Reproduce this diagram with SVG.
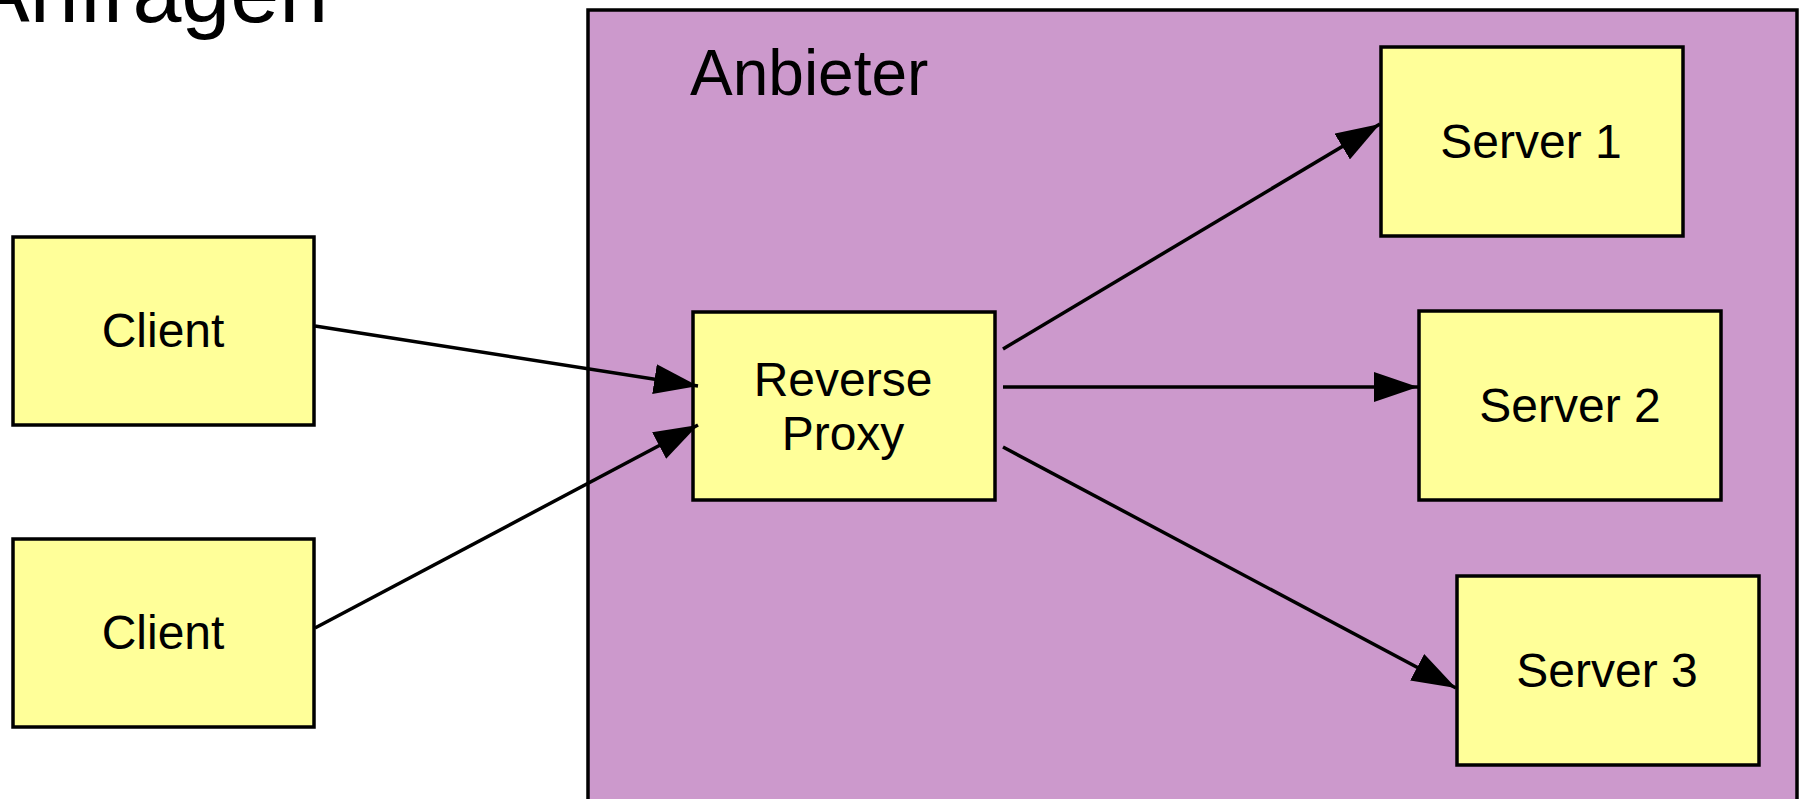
<svg xmlns="http://www.w3.org/2000/svg" width="1803" height="799" viewBox="0 0 1803 799">
<style>
.box{fill:#FFFF99;stroke:#000;stroke-width:3.5}
.lbl{font-family:"Liberation Sans",Arial,sans-serif;font-size:48px;fill:#000;text-anchor:middle}
.conn{stroke:#000;stroke-width:3.5;fill:none;marker-end:url(#arr)}
</style>
<defs>
<marker id="arr" markerUnits="userSpaceOnUse" markerWidth="44" markerHeight="30" refX="44" refY="15" orient="auto">
<path d="M0,0 L44,15 L0,30 z" fill="#000"/>
</marker>
</defs>
<rect width="1803" height="799" fill="#fff"/>
<text x="-29" y="22" font-family="Liberation Sans, Arial, sans-serif" font-size="88" fill="#000">Anfragen</text>
<g id="anbieter">
<rect x="588" y="10" width="1209" height="900" fill="#CC99CC" stroke="#000" stroke-width="3.5"/>
<text x="690" y="95" font-family="Liberation Sans, Arial, sans-serif" font-size="64" fill="#000">Anbieter</text>
</g>
<g id="client1"><rect class="box" x="13" y="237" width="301" height="188"/><text class="lbl" x="163" y="347">Client</text></g>
<g id="client2"><rect class="box" x="13" y="539" width="301" height="188"/><text class="lbl" x="163" y="649">Client</text></g>
<g id="proxy"><rect class="box" x="693" y="312" width="302" height="188"/><text class="lbl" x="843" y="396">Reverse</text><text class="lbl" x="843" y="450">Proxy</text></g>
<g id="server1"><rect class="box" x="1381" y="47" width="302" height="189"/><text class="lbl" x="1531" y="158">Server 1</text></g>
<g id="server2"><rect class="box" x="1419" y="311" width="302" height="189"/><text class="lbl" x="1570" y="422">Server 2</text></g>
<g id="server3"><rect class="box" x="1457" y="576" width="302" height="189"/><text class="lbl" x="1607" y="687">Server 3</text></g>
<g id="connectors">
<line class="conn" x1="315" y1="326" x2="698" y2="386"/>
<line class="conn" x1="315" y1="628" x2="698" y2="425"/>
<line class="conn" x1="1003" y1="349" x2="1380" y2="124"/>
<line class="conn" x1="1003" y1="387" x2="1418" y2="387"/>
<line class="conn" x1="1003" y1="447" x2="1456" y2="688"/>
</g>
</svg>
